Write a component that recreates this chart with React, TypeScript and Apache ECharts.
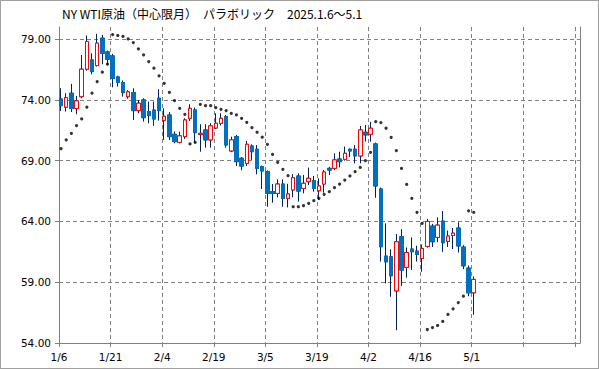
import React, { useEffect, useRef } from 'react';
import * as echarts from 'echarts';

const titleText = 'NY WTI原油（中心限月）　パラボリック　2025.1.6～5.1';

const dates = ['1/6','1/7','1/8','1/9','1/10','1/13','1/14','1/15','1/16','1/17','1/21','1/22','1/23','1/24','1/27','1/28','1/29','1/30','1/31','2/3','2/4','2/5','2/6','2/7','2/10','2/11','2/12','2/13','2/14','2/18','2/19','2/20','2/21','2/24','2/25','2/26','2/27','2/28','3/3','3/4','3/5','3/6','3/7','3/10','3/11','3/12','3/13','3/14','3/17','3/18','3/19','3/20','3/21','3/24','3/25','3/26','3/27','3/28','3/31','4/1','4/2','4/3','4/4','4/7','4/8','4/9','4/10','4/11','4/14','4/15','4/16','4/17','4/21','4/22','4/23','4/24','4/25','4/28','4/29','4/30','5/1'];

const openP = [74.08,73.40,74.55,73.29,74.27,76.53,77.29,76.83,79.08,77.95,77.62,75.89,75.43,74.27,74.60,73.12,74.00,73.04,73.17,74.14,72.33,72.76,71.17,70.51,70.98,72.49,73.18,71.15,71.53,70.71,71.69,72.08,72.63,69.80,70.98,69.20,68.78,70.21,69.94,68.51,68.10,66.45,66.31,67.08,65.90,66.59,67.74,66.72,67.27,67.35,66.53,67.08,68.37,68.37,69.14,69.11,69.94,69.94,69.39,71.34,71.17,70.38,66.67,61.15,61.09,58.29,62.74,60.22,61.73,61.56,60.96,61.95,63.62,62.69,64.03,62.36,62.85,63.46,61.89,60.16,58.13];
const closeP = [73.53,74.19,73.29,73.92,76.53,78.81,76.33,78.67,77.84,77.35,75.78,75.43,74.60,74.66,73.12,73.73,72.54,72.71,72.43,73.12,72.66,70.98,70.57,71.04,72.35,73.31,71.31,71.25,70.71,71.86,72.08,72.49,70.29,70.71,68.92,68.56,70.35,69.74,68.37,68.15,66.31,66.31,67.08,65.90,66.26,67.60,66.50,67.14,67.55,66.72,66.92,68.07,68.23,69.06,68.92,69.61,69.80,69.39,71.53,71.12,71.67,66.92,61.92,60.68,59.53,62.33,60.00,61.45,61.51,61.29,61.78,64.00,62.33,63.70,62.25,62.80,63.04,61.98,60.35,58.13,59.23];
const lowP = [73.09,73.04,73.01,72.82,74.14,76.40,76.11,76.75,76.94,76.94,75.04,75.10,74.27,74.10,72.35,72.90,72.22,72.08,71.86,72.30,70.71,70.71,70.43,70.43,70.79,72.27,70.51,69.74,70.07,70.07,71.60,71.90,70.07,69.70,68.56,68.21,68.56,69.06,67.88,66.67,65.21,65.54,65.98,65.21,65.16,65.98,65.63,66.31,67.00,66.45,65.76,66.37,67.82,68.23,68.45,69.00,69.30,68.78,68.78,70.57,70.57,65.95,60.70,58.90,57.80,55.05,58.70,59.37,60.00,60.70,59.86,61.85,61.90,62.30,61.50,61.90,61.73,61.44,60.08,57.85,56.32];
const highP = [74.96,74.55,75.32,74.33,77.70,79.30,77.84,79.44,79.35,78.06,77.79,75.99,75.60,74.80,74.96,74.00,74.14,73.86,73.86,74.88,73.31,73.00,71.40,71.39,72.49,73.64,73.37,72.00,72.00,72.08,72.90,72.90,72.76,70.98,71.12,69.30,70.62,70.35,70.29,68.60,68.20,67.08,67.47,67.47,67.10,67.90,67.96,67.82,68.43,67.74,67.55,68.23,68.50,69.61,69.74,70.16,70.00,70.29,71.86,71.94,72.20,70.49,66.80,63.84,61.70,62.96,63.37,61.86,62.69,62.00,62.10,64.20,63.80,64.34,64.86,63.25,63.46,63.94,62.05,60.38,59.48];
const sarP = [69.99,70.71,71.25,71.89,72.44,73.40,74.55,75.51,76.28,76.94,79.38,79.30,79.22,79.02,78.72,78.20,77.71,77.16,76.61,75.98,75.37,74.63,73.95,73.31,72.82,70.38,70.51,73.64,73.53,73.53,73.37,73.23,73.12,72.90,72.77,72.49,72.16,71.72,71.34,70.93,70.35,69.52,68.87,68.29,67.77,65.21,65.21,65.30,65.49,65.71,65.90,66.23,66.45,66.78,67.08,67.41,67.74,68.10,68.45,69.00,69.69,72.22,72.14,71.67,70.92,69.83,68.36,67.05,65.90,64.75,63.84,55.11,55.27,55.44,55.77,56.35,56.81,57.33,57.85,64.88,64.75];

const yTicks = [54, 59, 64, 69, 74, 79];
const xTicks = [0, 10, 20, 30, 40, 50, 60, 70, 80, 90, 100];

export default function App() {
  const ref = useRef<HTMLDivElement>(null);
  useEffect(() => {
    if (!ref.current) return;
    const chart = echarts.init(ref.current, null, { renderer: 'svg' });
    const slot = 0.4;
    const wickData = dates.map((_, i) => [i + slot, openP[i], closeP[i], lowP[i], highP[i]]);
    const bodyData = dates.map((_, i) => [i + slot, openP[i], closeP[i], Math.min(openP[i], closeP[i]), Math.max(openP[i], closeP[i])]);
    const sarData = dates.map((_, i) => [i + slot, sarP[i]]);
    const gray = '#808080';
    const font = 'DejaVu Sans';
    chart.setOption({
      animation: false,
      backgroundColor: '#ffffff',
      grid: { left: 59, right: 19, top: 27, bottom: 26 },
      graphic: [
        {
          type: 'text', left: 62, top: 7,
          style: { text: titleText, fontFamily: 'Noto Sans CJK JP', fontSize: 12, fill: '#000' },
        },
      ],
      xAxis: {
        type: 'value', min: 0, max: 101, interval: 10,
        axisLine: { show: true, lineStyle: { color: gray } },
        axisTick: { show: true, length: 4, lineStyle: { color: gray }, customValues: xTicks },
        axisLabel: {
          customValues: xTicks, margin: 8, color: '#000', fontFamily: font, fontSize: 10.5,
          formatter: (v: number) => (v % 10 === 0 && dates[v] !== undefined ? dates[v] : ''),
        },
        splitLine: { show: true, showMinLine: false, lineStyle: { color: gray, type: [4, 3], width: 1 } },
      },
      yAxis: [
        {
          type: 'value', min: 54, max: 80, interval: 5, position: 'left',
          axisLine: { show: true, lineStyle: { color: gray } },
          axisTick: { show: true, length: 4, lineStyle: { color: gray }, customValues: yTicks },
          axisLabel: {
            customValues: yTicks, margin: 8, color: '#000', fontFamily: font, fontSize: 10.5,
            formatter: (v: number) => v.toFixed(2),
          },
          splitLine: { show: true, showMinLine: false, lineStyle: { color: gray, type: [4, 3], width: 1 } },
        },
        {
          type: 'value', min: 54, max: 80, position: 'right',
          axisLine: { show: true, onZero: false, lineStyle: { color: gray } },
          axisTick: { show: false }, axisLabel: { show: false }, splitLine: { show: false },
        },
      ],
      series: [
        {
          type: 'candlestick', name: 'wick', data: wickData, barWidth: 4,
          encode: { x: 0, y: [1, 2, 3, 4] },
          itemStyle: { color: '#002060', color0: '#002060', borderColor: '#002060', borderColor0: '#002060', borderWidth: 1 },
          z: 2,
        },
        {
          type: 'candlestick', name: 'body', data: bodyData, barWidth: 4,
          encode: { x: 0, y: [1, 2, 3, 4] },
          itemStyle: { color: '#ffffff', color0: '#0070C0', borderColor: '#ff0000', borderColor0: '#0070C0', borderWidth: 1 },
          z: 3,
        },
        {
          type: 'scatter', name: 'SAR', data: sarData, symbol: 'circle', symbolSize: 3.2,
          itemStyle: { color: '#000' }, z: 4,
        },
      ],
    });
    return () => chart.dispose();
  }, []);
  return (
    <div style={{ position: 'fixed', left: 0, top: 0, width: 599, height: 369, background: '#fff' }}>
      <div ref={ref} style={{ position: 'absolute', left: 0, top: 0, width: 599, height: 369 }} />
      <div style={{ position: 'absolute', left: 0, top: 0, width: 599, height: 369, boxSizing: 'border-box', border: '1px solid #a0a0a0', pointerEvents: 'none' }} />
    </div>
  );
}
